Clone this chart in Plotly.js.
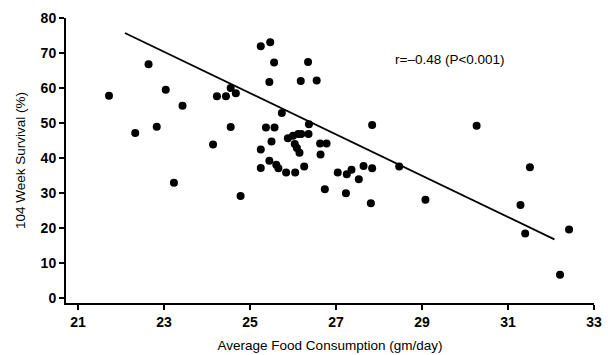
<!DOCTYPE html>
<html>
<head>
<meta charset="utf-8">
<script src="https://cdn.plot.ly/plotly-3.0.1.min.js"></script>
<style>html,body{margin:0;padding:0;background:#fff;}#chart{width:608px;height:355px;}</style>
</head>
<body>
<div id="chart"></div>
<script>
// Average food consumption (gm/day)
var foodX = [21.72, 22.33, 22.64, 22.83, 23.04, 23.23, 23.43, 24.14, 24.23, 24.44,
             24.55, 24.55, 24.67, 24.78, 25.25, 25.47, 25.56, 25.45, 25.74, 25.37,
             25.57, 25.50, 25.25, 25.25, 25.45, 25.61, 25.66, 25.84, 25.88, 26.00,
             26.12, 26.19, 26.04, 26.09, 26.15, 26.05, 26.26, 26.18, 26.35, 26.55,
             26.37, 26.36, 26.63, 26.78, 26.64, 26.74, 27.04, 27.25, 27.36, 27.53,
             27.64, 27.84, 27.23, 27.81, 27.84, 28.47, 29.08, 30.27, 31.51, 31.29,
             31.40, 32.42, 32.21];
// 104 week survival (%)
var survivalY = [57.8, 47.1, 66.8, 48.9, 59.5, 32.9, 54.9, 43.8, 57.6, 57.6,
                 60.0, 48.8, 58.5, 29.1, 71.9, 73.1, 67.3, 61.7, 52.8, 48.7,
                 48.7, 44.7, 42.4, 37.1, 39.2, 38.0, 37.0, 35.8, 45.6, 46.3,
                 46.8, 46.8, 44.0, 42.8, 41.5, 35.8, 37.5, 62.0, 67.4, 62.1,
                 49.6, 46.8, 44.1, 44.1, 41.0, 31.0, 35.8, 35.3, 36.6, 33.9,
                 37.7, 37.0, 29.9, 27.0, 49.4, 37.5, 28.0, 49.2, 37.3, 26.5,
                 18.4, 19.5, 6.6];
// Regression line end points
var lineX = [22.09, 32.08];
var lineY = [75.7, 16.7];
var xTicks = [21, 23, 25, 27, 29, 31, 33];
var yTicks = [0, 10, 20, 30, 40, 50, 60, 70, 80];
var annText = 'r=\u20130.48 (P<0.001)';

var fontFam = '"Liberation Sans", Arial, Helvetica, sans-serif';

var traces = [
  {x: lineX, y: lineY, mode: 'lines', type: 'scatter',
   line: {color: '#000', width: 1.8}, hoverinfo: 'skip'},
  {x: foodX, y: survivalY, mode: 'markers', type: 'scatter',
   marker: {color: '#000', size: 8, line: {width: 0}}}
];

var layout = {
  width: 608, height: 355,
  margin: {l: 66, r: 14, t: 18, b: 52},
  paper_bgcolor: '#fff', plot_bgcolor: '#fff',
  showlegend: false,
  font: {family: fontFam, color: '#000', size: 13},
  xaxis: {
    range: [20.72, 33], tickvals: xTicks, ticktext: xTicks.map(String),
    showgrid: false, zeroline: false, showline: true, linecolor: '#000', linewidth: 2,
    ticks: 'outside', ticklen: 5, tickwidth: 1.5, tickcolor: '#000',
    tickfont: {family: fontFam, size: 14, color: '#000', weight: 'bold'},
    title: {text: 'Average Food Consumption (gm/day)', font: {family: fontFam, size: 13.5, color: '#000'}, standoff: 12}
  },
  yaxis: {
    range: [-1.5, 80], tickvals: yTicks, ticktext: yTicks.map(String),
    showgrid: false, zeroline: false, showline: true, linecolor: '#000', linewidth: 2,
    ticks: 'outside', ticklen: 5, tickwidth: 1.5, tickcolor: '#000',
    tickfont: {family: fontFam, size: 14, color: '#000', weight: 'bold'},
    title: {text: '104 Week Survival (%)', font: {family: fontFam, size: 13.5, color: '#000'}, standoff: 12}
  },
  annotations: [{
    xref: 'paper', yref: 'paper', x: 0.62, y: 0.855, xanchor: 'left', yanchor: 'middle',
    text: annText, showarrow: false, font: {family: fontFam, size: 13.5, color: '#000'}
  }]
};

Plotly.newPlot('chart', traces, layout, {staticPlot: true, displayModeBar: false});
</script>
</body>
</html>
